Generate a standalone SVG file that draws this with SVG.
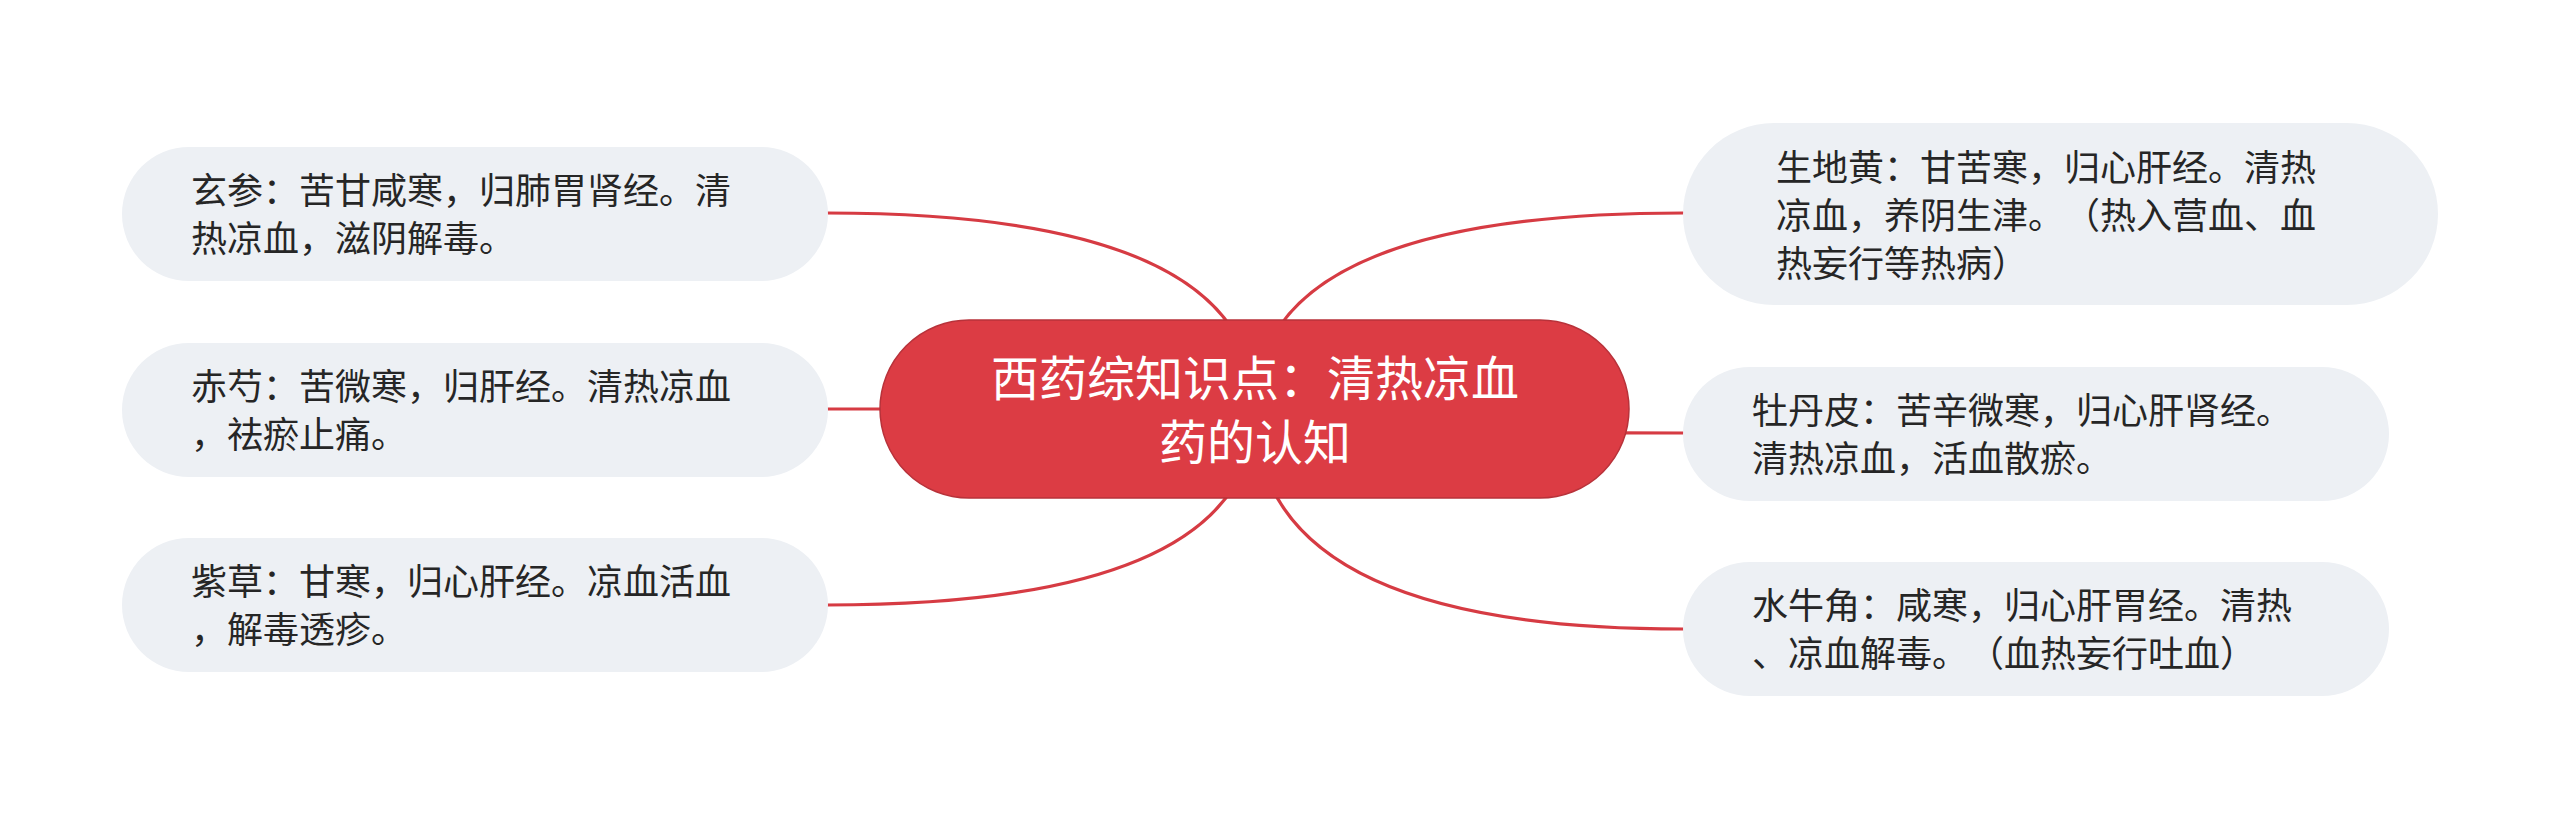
<svg xmlns="http://www.w3.org/2000/svg" width="2560" height="819" viewBox="0 0 2560 819">
<style>
.bg{fill:#ffffff}
.conn path{fill:none;stroke:#d63b43;stroke-width:3.2;stroke-linecap:round}
.child rect{fill:#edf0f4}
.child text{font-family:"Noto Sans CJK SC","Noto Sans",sans-serif;font-size:36px;fill:#262626;text-spacing-trim:space-all}
.root rect{fill:#dc3c44;stroke:#b8323a;stroke-width:1.5}
.root text{font-family:"Noto Sans CJK SC","Noto Sans",sans-serif;font-size:48px;fill:#ffffff;text-anchor:middle;text-spacing-trim:space-all}
</style>
<rect class="bg" x="0" y="0" width="2560" height="819"/>
<g id="connectors" class="conn">
<path d="M1255 409 Q1255 213 827 213"/>
<path d="M1255 409 L827 409"/>
<path d="M1255 409 Q1255 605 827 605"/>
<path d="M1255 409 Q1255 213 1683 213"/>
<path d="M1255 409 Q1255 433 1683 433"/>
<path d="M1255 409 Q1255 629 1683 629"/>
</g>
<g id="node-root" class="root">
<rect x="880" y="320" width="749" height="178" rx="89" ry="89"/>
<text x="1255" y="396">西药综知识点：清热凉血</text>
<text x="1255" y="460">药的认知</text>
</g>
<g id="node-xuanshen" class="child">
<rect x="122" y="147" width="706" height="134" rx="67" ry="67"/>
<text x="191" y="203.5">玄参：苦甘咸寒，归肺胃肾经。清</text>
<text x="191" y="251.5">热凉血，滋阴解毒。</text>
</g>
<g id="node-chishao" class="child">
<rect x="122" y="343" width="706" height="134" rx="67" ry="67"/>
<text x="191" y="399.5">赤芍：苦微寒，归肝经。清热凉血</text>
<text x="191" y="447.5">，祛瘀止痛。</text>
</g>
<g id="node-zicao" class="child">
<rect x="122" y="538" width="706" height="134" rx="67" ry="67"/>
<text x="191" y="594.5">紫草：甘寒，归心肝经。凉血活血</text>
<text x="191" y="642.5">，解毒透疹。</text>
</g>
<g id="node-shengdihuang" class="child">
<rect x="1683" y="123" width="755" height="182" rx="91" ry="91"/>
<text x="1776" y="181">生地黄：甘苦寒，归心肝经。清热</text>
<text x="1776" y="229">凉血，养阴生津。<tspan x="2064">（热入营血、血</tspan></text>
<text x="1776" y="277">热妄行等热病）</text>
</g>
<g id="node-mudanpi" class="child">
<rect x="1683" y="367" width="706" height="134" rx="67" ry="67"/>
<text x="1752" y="423.5">牡丹皮：苦辛微寒，归心肝肾经。</text>
<text x="1752" y="471.5">清热凉血，活血散瘀。</text>
</g>
<g id="node-shuiniujiao" class="child">
<rect x="1683" y="562" width="706" height="134" rx="67" ry="67"/>
<text x="1752" y="618.5">水牛角：咸寒，归心肝胃经。清热</text>
<text x="1752" y="666.5">、凉血解毒。<tspan x="1968">（血热妄行吐血）</tspan></text>
</g>
</svg>
